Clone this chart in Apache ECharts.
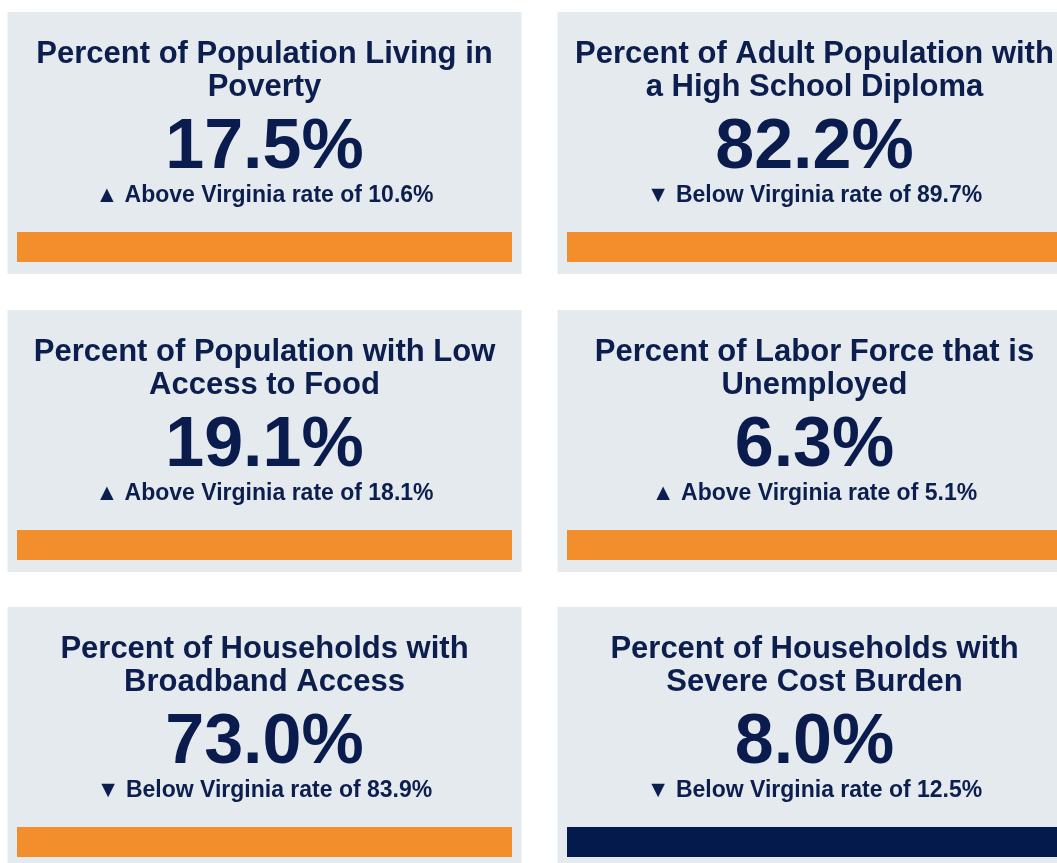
<!DOCTYPE html>
<html>
<head>
<meta charset="utf-8">
<script src="https://cdn.jsdelivr.net/npm/echarts@6/dist/echarts.min.js"></script>
<style>
  html, body { margin: 0; padding: 0; background: #ffffff; }
  #chart { width: 1057px; height: 863px; }
</style>
</head>
<body>
<div id="chart"></div>
<script>
// ---- Data ----
const titles = [
  'Percent of Population Living in\nPoverty',
  'Percent of Adult Population with\na High School Diploma',
  'Percent of Population with Low\nAccess to Food',
  'Percent of Labor Force that is\nUnemployed',
  'Percent of Households with\nBroadband Access',
  'Percent of Households with\nSevere Cost Burden'
];
const localValues = [17.5, 82.2, 19.1, 6.3, 73.0, 8.0];
const virginiaRates = [10.6, 89.7, 18.1, 5.1, 83.9, 12.5];
const higherIsBetter = [false, true, false, false, true, false];
const indicatorFill = [1, 1, 1, 1, 1, 1];

// ---- Styles ----
const FONT = '"Liberation Sans", Arial, Helvetica, sans-serif';
const NAVY = '#0c1e4e';
const BAR_NAVY = '#041a4d';
const ORANGE = '#f28f2c';
const CARD_BG = '#e5eaef';

const cardW = 514, cardH = 262;
const colX = [7.5, 557.5];
const rowY = [12, 310, 607];

const chart = echarts.init(document.getElementById('chart'), null, { renderer: 'canvas' });

const graphics = [];
const grids = [], xAxes = [], yAxes = [], series = [];

titles.forEach((t, i) => {
  const cx = colX[i % 2];
  const cy = rowY[Math.floor(i / 2)];
  const mid = cx + cardW / 2;
  const above = localValues[i] > virginiaRates[i];
  const worse = higherIsBetter[i] ? !above : above;

  graphics.push({
    type: 'rect', z: 0, silent: true,
    shape: { x: cx, y: cy, width: cardW, height: cardH },
    style: { fill: CARD_BG }
  });
  graphics.push({
    type: 'text', z: 5, silent: true,
    style: {
      text: t, x: mid, y: cy + 59, align: 'center', verticalAlign: 'middle',
      font: 'bold 31px ' + FONT, lineHeight: 33, fill: NAVY
    }
  });
  graphics.push({
    type: 'text', z: 5, silent: true,
    style: {
      text: localValues[i].toFixed(1) + '%', x: mid, y: cy + 137,
      align: 'center', verticalAlign: 'middle',
      font: 'bold 70px ' + FONT, fill: '#0a1b4d'
    }
  });
  graphics.push({
    type: 'text', z: 5, silent: true,
    style: {
      text: (above ? '\u25B2 Above' : '\u25BC Below') + ' Virginia rate of ' + virginiaRates[i].toFixed(1) + '%',
      x: mid, y: cy + 184, align: 'center', verticalAlign: 'middle',
      font: 'bold 23px ' + FONT, fill: NAVY
    }
  });

  grids.push({ left: cx + 9.5, top: cy + 220, width: cardW - 19, height: 30, containLabel: false });
  xAxes.push({ gridIndex: i, type: 'value', min: 0, max: 1, show: false });
  yAxes.push({ gridIndex: i, type: 'category', data: [''], show: false });
  series.push({
    type: 'bar', xAxisIndex: i, yAxisIndex: i, barWidth: '100%', barCategoryGap: 0,
    data: [indicatorFill[i]], silent: true, z: 3,
    itemStyle: { color: worse ? ORANGE : BAR_NAVY },
    animation: false
  });
});

chart.setOption({
  animation: false,
  backgroundColor: '#ffffff',
  grid: grids,
  xAxis: xAxes,
  yAxis: yAxes,
  series: series,
  graphic: { elements: graphics }
});
</script>
</body>
</html>
